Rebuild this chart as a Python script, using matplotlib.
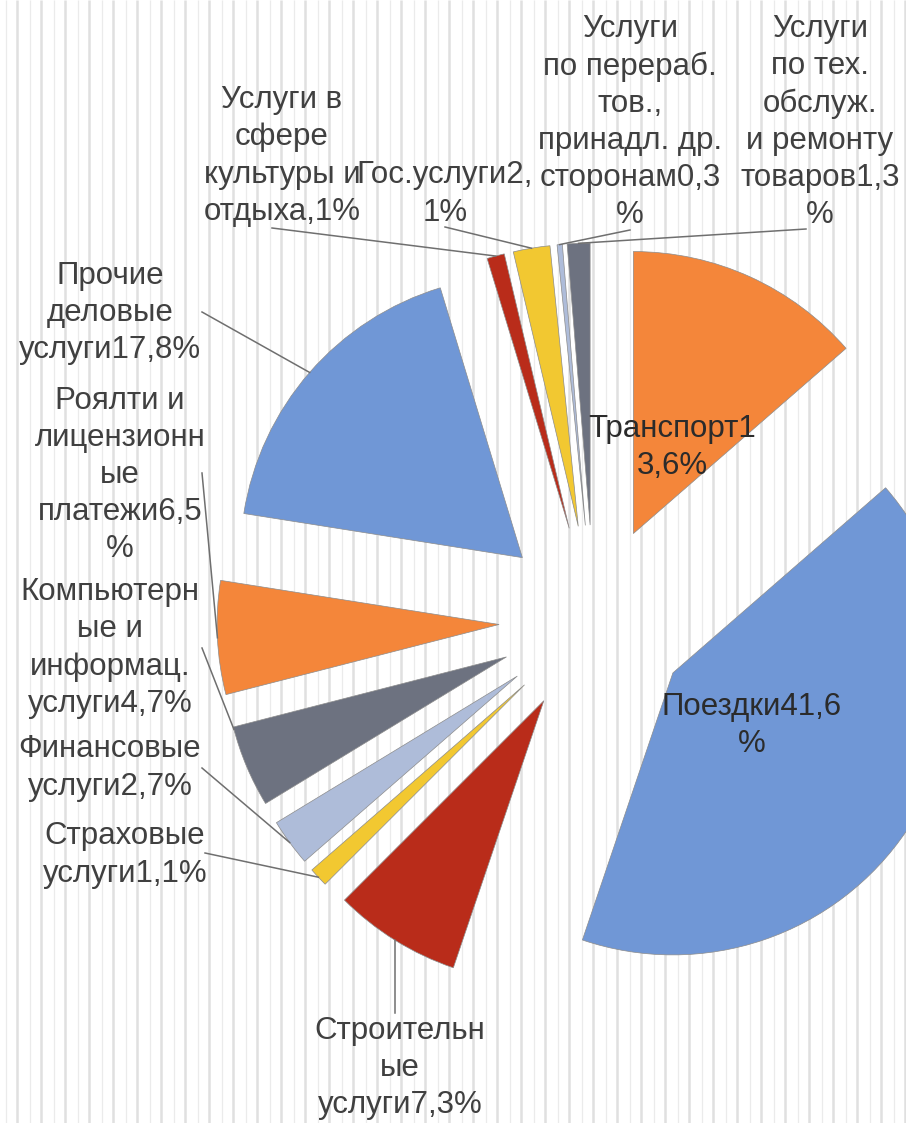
import numpy as np
import matplotlib.pyplot as plt

plt.rcParams['font.family'] = ['Liberation Sans', 'DejaVu Sans']

W, H = 906, 1123

categories = [
    "Транспорт", "Поездки", "Строительные услуги", "Страховые услуги",
    "Финансовые услуги", "Компьютерные и информац. услуги",
    "Роялти и лицензионные платежи", "Прочие деловые услуги",
    "Услуги в сфере культуры и отдыха", "Гос.услуги",
    "Услуги по перераб. тов., принадл. др. сторонам",
    "Услуги по тех. обслуж. и ремонту товаров",
]
shares = [13.6, 41.6, 7.3, 1.1, 2.7, 4.7, 6.5, 17.8, 1.0, 2.1, 0.3, 1.3]
label_text = [
    "Транспорт1\n3,6%",
    "Поездки41,6\n%",
    "Строительн\nые\nуслуги7,3%",
    "Страховые\nуслуги1,1%",
    "Финансовые\nуслуги2,7%",
    "Компьютерн\nые и\nинформац.\nуслуги4,7%",
    "Роялти и\nлицензионн\nые\nплатежи6,5\n%",
    "Прочие\nделовые\nуслуги17,8%",
    "Услуги в\nсфере\nкультуры и\nотдыха,1%",
    "Гос.услуги2,\n1%",
    "Услуги\nпо перераб.\nтов.,\nпринадл. др.\nсторонам0,3\n%",
    "Услуги\nпо тех.\nобслуж.\nи ремонту\nтоваров1,3\n%",
]
palette = ["#F4863A", "#7097D6", "#B92C1A", "#F2C831", "#AEBCD9", "#6D7280"]
colors = [palette[i % len(palette)] for i in range(len(shares))]

# label anchors in pixel coords from the top-left corner (None = inside the slice)
label_xy = [None, None, (400, 1068), (125, 855), (110, 768), (110, 648),
            (120, 475), (110, 313), (282, 156), (445, 194), (630, 122), (820, 122)]
leader_from = [None, None, (395, 1013), (205, 853), (202, 768), (202, 648),
               (202, 473), (202, 312), (272, 228), (445, 227), (630, 230), (806, 229)]
# where on the outer arc the leader lands (0 = theta1, 1 = theta2)
leader_frac = [0.5] * 12
leader_frac[5] = 0.03

FS = 22.5
LS = 1.31


def px(x, y):
    return x, H - y


fig = plt.figure(figsize=(W / 100, H / 100), dpi=100)
ax = fig.add_axes([0, 0, 1, 1])

# striped backdrop
ax.vlines(np.arange(16.7, W, 24), 0, H, color="#e0e0e0", lw=1.8, zorder=0)
ax.vlines(np.arange(5.7, W, 24), 0, H, color="#ebebeb", lw=0.9, zorder=0)

radius = 282
wedges, _ = ax.pie(
    shares, colors=colors, startangle=90, counterclock=False,
    radius=radius, center=px(594, 620), explode=[95] * len(shares),
    wedgeprops=dict(edgecolor="#8c8c8c", linewidth=0.5),
)

for i, w in enumerate(wedges):
    cx, cy = w.center
    if label_xy[i] is None:
        mid = np.deg2rad((w.theta1 + w.theta2) / 2)
        lx = cx + 0.335 * radius * np.cos(mid)
        ly = cy + 0.335 * radius * np.sin(mid)
        ax.text(lx, ly, label_text[i], ha="center", va="center",
                fontsize=FS, color="#2b2b2b", linespacing=LS, zorder=5)
        continue
    ang = np.deg2rad(w.theta1 + leader_frac[i] * (w.theta2 - w.theta1))
    ex, ey = cx + radius * np.cos(ang), cy + radius * np.sin(ang)
    sx, sy = px(*leader_from[i])
    ax.plot([sx, ex], [sy, ey], color="#6f6f6f", lw=1.1, zorder=4)
    tx, ty = px(*label_xy[i])
    ax.text(tx, ty, label_text[i], ha="center", va="center",
            fontsize=FS, color="#404040", linespacing=LS, zorder=5)

ax.set_xlim(0, W)
ax.set_ylim(0, H)
ax.set_aspect("equal")
ax.axis("off")

fig.savefig("out.png", dpi=100, facecolor="white")
